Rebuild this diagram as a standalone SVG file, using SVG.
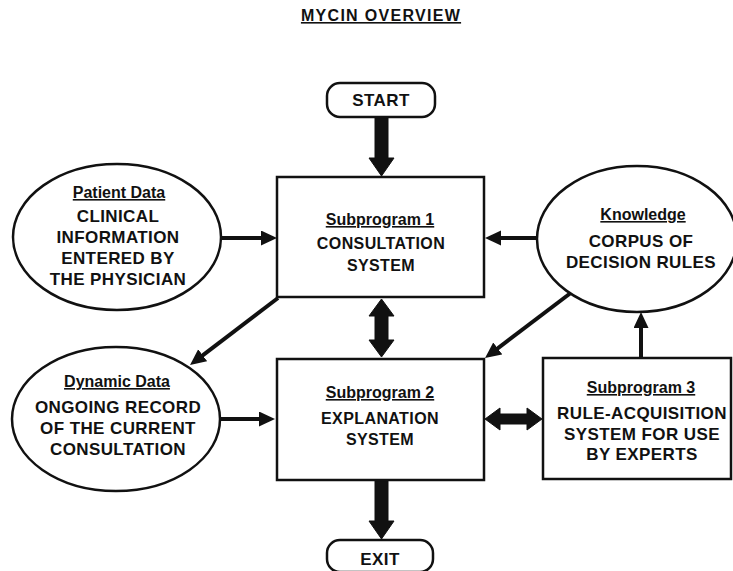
<svg xmlns="http://www.w3.org/2000/svg" width="733" height="571" viewBox="0 0 733 571">
<style>
  .bg { fill: #ffffff; }
  .shape { fill: #ffffff; stroke: #111111; stroke-width: 2.5; }
  .t { font-family: "Liberation Sans", Arial, sans-serif; font-weight: bold; fill: #111111; text-anchor: middle; }
  .cap { font-size: 17px; letter-spacing: 0.4px; }
  .capb { font-size: 16px; letter-spacing: 0.4px; }
  .sub { font-size: 16px; text-decoration: underline; text-underline-offset: 3px; }
  .title { font-size: 16px; letter-spacing: 1.3px; text-decoration: underline; text-decoration-thickness: 2px; text-underline-offset: 4px; }
  .line { stroke: #111111; stroke-width: 4; fill: none; marker-end: url(#ah); }
  .fat { fill: #111111; stroke: #111111; stroke-width: 1; stroke-linejoin: miter; }
</style>
<defs>
  <marker id="ah" markerUnits="userSpaceOnUse" markerWidth="17" markerHeight="16" refX="10" refY="7.5" orient="auto">
    <path d="M0,0 L16,7.5 L0,15 z" fill="#111111"/>
  </marker>
</defs>
<rect class="bg" x="0" y="0" width="733" height="571"/>

<g id="title">
  <text class="t title" x="381" y="21">MYCIN OVERVIEW</text>
</g>

<g id="connectors">
  <polygon class="fat" points="375,117 388,117 388,158 394,158 381.5,176 369,158 375,158"/>
  <polygon class="fat" points="381.5,299 394,316 388,316 388,340 394,340 381.5,357 369,340 375,340 375,316 369,316"/>
  <polygon class="fat" points="375,481 388,481 388,521 394,521 381.5,539 369,521 375,521"/>
  <polygon class="fat" points="485,419 500,408 500,414 527,414 527,408 542,419 527,430 527,424 500,424 500,430"/>
  <line class="line" x1="222" y1="238" x2="271" y2="238"/>
  <line class="line" x1="537" y1="238" x2="491" y2="238"/>
  <line class="line" x1="220" y1="419" x2="269" y2="419"/>
  <line class="line" x1="278" y1="298" x2="194.8" y2="361.4"/>
  <line class="line" x1="572" y1="292" x2="489.8" y2="354.4"/>
  <line class="line" x1="641" y1="358" x2="641" y2="318"/>
</g>

<g id="start">
  <rect class="shape" x="327" y="83" width="108" height="34" rx="13"/>
  <text class="t cap" x="381" y="106">START</text>
</g>

<g id="exit">
  <rect class="shape" x="327" y="540" width="106" height="32" rx="13"/>
  <text class="t cap" x="380" y="565">EXIT</text>
</g>

<g id="patient-data">
  <ellipse class="shape" cx="117" cy="237" rx="104" ry="73"/>
  <text class="t sub" x="119" y="198">Patient Data</text>
  <text class="t cap" x="118" y="222">CLINICAL</text>
  <text class="t cap" x="118" y="243">INFORMATION</text>
  <text class="t cap" x="118" y="264">ENTERED BY</text>
  <text class="t cap" x="118" y="285">THE PHYSICIAN</text>
</g>

<g id="subprogram-1">
  <rect class="shape" x="277" y="177" width="207" height="120"/>
  <text class="t sub" x="380" y="225">Subprogram 1</text>
  <text class="t capb" x="381" y="249">CONSULTATION</text>
  <text class="t capb" x="381" y="271">SYSTEM</text>
</g>

<g id="knowledge">
  <ellipse class="shape" cx="637" cy="239" rx="100" ry="73"/>
  <text class="t sub" x="643" y="220">Knowledge</text>
  <text class="t cap" x="641" y="247">CORPUS OF</text>
  <text class="t cap" x="641" y="268">DECISION RULES</text>
</g>

<g id="dynamic-data">
  <ellipse class="shape" cx="116" cy="419" rx="104" ry="72"/>
  <text class="t sub" x="117" y="387">Dynamic Data</text>
  <text class="t cap" x="118" y="413">ONGOING RECORD</text>
  <text class="t cap" x="118" y="434">OF THE CURRENT</text>
  <text class="t cap" x="118" y="455">CONSULTATION</text>
</g>

<g id="subprogram-2">
  <rect class="shape" x="277" y="359" width="207" height="121"/>
  <text class="t sub" x="380" y="398">Subprogram 2</text>
  <text class="t capb" x="380" y="424">EXPLANATION</text>
  <text class="t capb" x="380" y="445">SYSTEM</text>
</g>

<g id="subprogram-3">
  <rect class="shape" x="543" y="358" width="188" height="121"/>
  <text class="t sub" x="641" y="393">Subprogram 3</text>
  <text class="t cap" x="642" y="419">RULE-ACQUISITION</text>
  <text class="t cap" x="642" y="440">SYSTEM FOR USE</text>
  <text class="t cap" x="642" y="460">BY EXPERTS</text>
</g>
</svg>
